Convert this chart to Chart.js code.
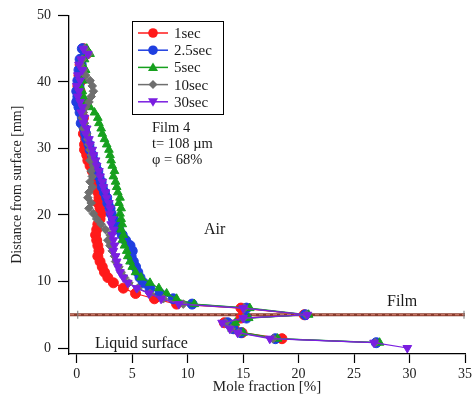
<!DOCTYPE html>
<html>
<head>
<meta charset="utf-8">
<script src="https://cdn.jsdelivr.net/npm/chart.js@4.4.1/dist/chart.umd.min.js"></script>
<style>
  html, body { margin: 0; padding: 0; background: #fff; }
  canvas { display: block; }
</style>
</head>
<body>
<canvas id="chart" width="475" height="408"></canvas>
<script>
// depth below/above the liquid surface [mm], shared by all runs
const depth = [45.0, 44.2, 43.4, 42.6, 41.8, 41.0, 40.2, 39.4, 38.6, 37.8,
  37.0, 36.2, 35.4, 34.6, 33.8, 33.0, 32.2, 31.4, 30.6, 29.8,
  29.0, 28.2, 27.4, 26.6, 25.8, 25.0, 24.2, 23.4, 22.6, 21.8,
  21.0, 20.2, 19.4, 18.6, 17.8, 17.0, 16.2, 15.4, 14.6, 13.8,
  13.0, 12.2, 11.4, 10.6, 9.8, 9.0, 8.2, 7.4, 6.6, 6.0,
  5.0, 4.5, 3.8, 2.9, 2.3, 1.4, 0.8, 0.0];

// mole fraction [%] per run
const frac1s = [0.6, 0.9, 0.4, 0.3, 0.5, 0.2, 0.4, 0.1, 0.3, 0.2,
  0.4, 0.5, 0.4, 0.6, 0.5, 0.7, 0.6, 0.8, 0.7, 0.7,
  0.9, 1.0, 1.2, 1.4, 1.6, 1.7, 1.8, 1.9, 2.0, 1.9,
  2.1, 2.2, 2.1, 1.9, 1.8, 1.7, 1.8, 1.9, 2.0, 1.9,
  2.1, 2.3, 2.5, 2.8, 3.3, 4.2, 5.3, 7.0, 9.0, 14.8,
  20.5, 14.8, 13.3, 14.2, 14.9, 18.5];
const frac25s = [0.5, 0.8, 0.3, 0.4, 0.2, 0.3, 0.1, 0.2, 0.0, 0.1,
  0.0, 0.2, 0.3, 0.5, 0.4, 0.7, 0.8, 0.9, 1.1, 1.2,
  1.4, 1.5, 1.7, 1.9, 2.0, 2.2, 2.3, 2.5, 2.7, 2.8,
  3.0, 3.1, 3.3, 3.5, 3.8, 4.1, 4.4, 4.8, 5.0, 4.9,
  5.1, 5.3, 5.5, 5.7, 6.0, 6.6, 7.5, 8.7, 10.4, 15.3,
  20.6, 15.3, 13.6, 14.1, 14.8, 17.9, 27.0];
const frac5s = [0.9, 1.2, 0.7, 0.5, 0.8, 0.4, 0.6, 0.3, 0.5, 0.6,
  0.8, 1.2, 1.6, 1.9, 2.0, 2.2, 2.3, 2.5, 2.7, 2.9,
  3.0, 3.1, 3.2, 3.4, 3.3, 3.5, 3.6, 3.7, 3.9, 3.8,
  4.0, 3.9, 4.0, 4.1, 4.0, 4.2, 4.1, 4.3, 4.5, 4.6,
  4.8, 5.0, 5.3, 5.8, 6.6, 7.4, 8.1, 9.0, 10.6, 15.6,
  20.9, 15.5, 14.3, 14.0, 15.0, 18.1, 27.3];
const frac10s = [0.7, 1.1, 0.5, 0.3, 0.6, 0.8, 1.2, 1.4, 1.5, 1.3,
  1.1, 0.8, 0.6, 0.5, 0.7, 0.6, 0.9, 1.0, 1.1, 1.2,
  1.3, 1.2, 1.5, 1.3, 1.4, 1.2, 1.4, 1.1, 1.0, 1.3,
  1.1, 1.5, 1.8, 2.2, 2.6, 3.0, 2.8, 3.0, 3.2, 3.4,
  3.5, 3.8, 4.0, 4.3, 4.7, 5.5, 6.6, 7.8, 9.6, 15.1,
  20.7, 15.0, 13.4, 13.9, 14.6, 17.7, 26.9];
const frac30s = [0.6, 1.0, 0.4, 0.2, 0.5, 0.1, 0.3, 0.0, 0.2, 0.1,
  0.3, 0.5, 0.4, 0.7, 0.6, 0.9, 0.8, 1.1, 1.2, 1.4,
  1.5, 1.7, 1.8, 2.0, 2.1, 2.3, 2.4, 2.6, 2.7, 2.9,
  3.0, 3.0, 3.2, 3.1, 3.3, 3.2, 3.3, 3.4, 3.3, 3.5,
  3.6, 3.7, 3.9, 4.2, 4.6, 5.4, 6.5, 7.6, 9.2, 15.0,
  20.8, 15.0, 13.1, 13.8, 14.5, 17.4, 26.8, 29.8];

const runLabels = ["1sec", "2.5sec", "5sec", "10sec", "30sec"];
const runColors = ["#ff1a1a", "#1f3fe0", "#16a01e", "#6e6e6e", "#7a1ee0"];
const runStyles = ["circle", "circle", "triangle", "rectRot", "triangle"];
const runFracs = [frac1s, frac25s, frac5s, frac10s, frac30s];

const xTicks = [0, 5, 10, 15, 20, 25, 30, 35];
const yTicks = [0, 10, 20, 30, 40, 50];
const filmDepth = 5;

const SERIF = "'Liberation Serif', 'DejaVu Serif', serif";

const datasets = runLabels.map((label, i) => ({
  label,
  data: runFracs[i].map((f, k) => ({ x: f, y: depth[k] })),
  borderColor: runColors[i],
  backgroundColor: runColors[i],
  borderWidth: 1.2,
  pointStyle: runStyles[i],
  pointRotation: i === 4 ? 180 : 0,
  pointRadius: runStyles[i] === "rectRot" ? 4.3 : 5,
  pointBorderWidth: 1,
  showLine: true,
  tension: 0,
  order: 5 - i,
}));

// film line + annotations + legend box
const decor = {
  id: "decor",
  beforeDatasetsDraw(chart) {
    const { ctx, scales: { x, y } } = chart;
    const py = y.getPixelForValue(filmDepth);
    const x0 = x.left + 1, x1 = x.right;
    ctx.save();
    ctx.strokeStyle = "#8a3b2c";
    ctx.lineWidth = 3;
    ctx.beginPath(); ctx.moveTo(x0, py); ctx.lineTo(x1, py); ctx.stroke();
    ctx.strokeStyle = "#d98a78";
    ctx.lineWidth = 1;
    ctx.setLineDash([4, 3]);
    ctx.beginPath(); ctx.moveTo(x0, py); ctx.lineTo(x1, py); ctx.stroke();
    ctx.setLineDash([]);
    ctx.strokeStyle = "#777";
    ctx.beginPath();
    ctx.moveTo(x.getPixelForValue(0) + 1, py - 4); ctx.lineTo(x.getPixelForValue(0) + 1, py + 4);
    ctx.moveTo(x1 - 1, py - 4); ctx.lineTo(x1 - 1, py + 4);
    ctx.stroke();
    ctx.restore();
  },
  afterDraw(chart) {
    const { ctx } = chart;
    ctx.save();
    ctx.fillStyle = "#1a1a1a";
    ctx.textBaseline = "middle";
    ctx.textAlign = "left";
    ctx.font = "14.5px " + SERIF;
    ctx.fillText("Film 4", 152, 128);
    ctx.fillText("t= 108 \u00b5m", 152, 144);
    ctx.fillText("\u03c6 = 68%", 152, 160);
    ctx.font = "16px " + SERIF;
    ctx.fillText("Air", 204, 230);
    ctx.fillText("Film", 387, 302);
    ctx.fillText("Liquid surface", 95, 344);

    // legend
    const bx = 132, by = 21, bw = 91, bh = 93;
    ctx.strokeStyle = "#000";
    ctx.lineWidth = 1;
    ctx.strokeRect(bx + 0.5, by + 0.5, bw, bh);
    ctx.font = "15px " + SERIF;
    runLabels.forEach((label, i) => {
      const ly = 33 + i * 17.2;
      ctx.strokeStyle = runColors[i];
      ctx.fillStyle = runColors[i];
      ctx.lineWidth = 1.5;
      ctx.beginPath(); ctx.moveTo(138, ly); ctx.lineTo(168, ly); ctx.stroke();
      const cx = 153;
      ctx.beginPath();
      if (runStyles[i] === "circle") {
        ctx.arc(cx, ly, 4.8, 0, Math.PI * 2);
      } else if (runStyles[i] === "rectRot") {
        ctx.moveTo(cx, ly - 4.5); ctx.lineTo(cx + 4.5, ly); ctx.lineTo(cx, ly + 4.5); ctx.lineTo(cx - 4.5, ly);
      } else if (i === 4) {
        ctx.moveTo(cx - 5, ly - 3.5); ctx.lineTo(cx + 5, ly - 3.5); ctx.lineTo(cx, ly + 5);
      } else {
        ctx.moveTo(cx - 5, ly + 3.5); ctx.lineTo(cx + 5, ly + 3.5); ctx.lineTo(cx, ly - 5);
      }
      ctx.closePath(); ctx.fill();
      ctx.fillStyle = "#1a1a1a";
      ctx.fillText(label, 174, ly + 1);
    });
    ctx.restore();
  },
};

new Chart(document.getElementById("chart"), {
  type: "scatter",
  data: { datasets },
  options: {
    responsive: false,
    animation: false,
    layout: { padding: { top: 7, right: 0, left: 0, bottom: 0 } },
    plugins: { legend: { display: false }, tooltip: { enabled: false } },
    scales: {
      x: {
        type: "linear",
        min: -0.7,
        max: 35,
        afterBuildTicks: (s) => { s.ticks = xTicks.map((v) => ({ value: v })); },
        afterFit: (s) => { s.height = 54; },
        grid: { display: true, drawOnChartArea: false, drawTicks: true, tickLength: 9, color: "#000", tickWidth: 1.2 },
        border: { display: true, color: "#000", width: 1.3 },
        ticks: { color: "#222", font: { family: SERIF, size: 14 }, padding: 3 },
        title: { display: true, text: "Mole fraction [%]", color: "#222", font: { family: SERIF, size: 15 }, padding: { top: 0, bottom: 12 } },
      },
      y: {
        type: "linear",
        min: -0.9,
        max: 50,
        afterBuildTicks: (s) => { s.ticks = yTicks.map((v) => ({ value: v })); },
        afterFit: (s) => { s.width = 69; },
        grid: { display: true, drawOnChartArea: false, drawTicks: true, tickLength: 11, color: "#000", tickWidth: 1.2 },
        border: { display: true, color: "#000", width: 1.3 },
        ticks: { color: "#222", font: { family: SERIF, size: 14 }, padding: 7 },
        title: { display: true, text: "Distance from surface [mm]", color: "#222", font: { family: SERIF, size: 14 }, padding: { top: 9, bottom: 0 } },
      },
    },
  },
  plugins: [decor],
});
</script>
</body>
</html>
